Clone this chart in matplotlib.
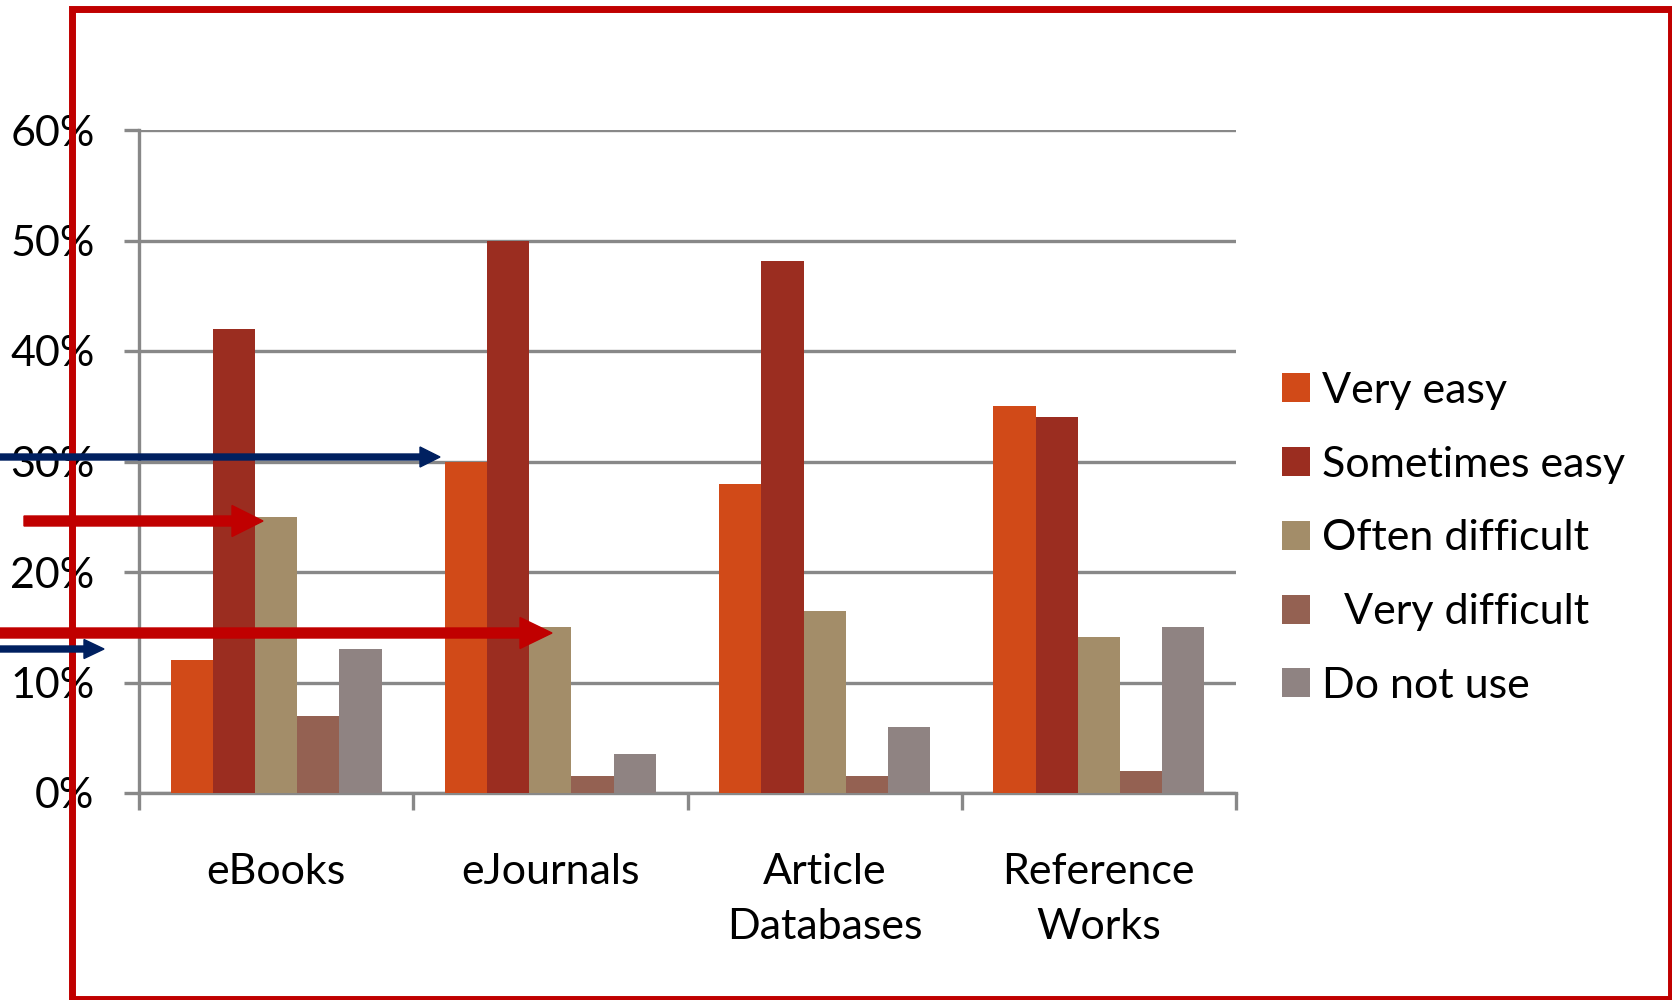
import numpy as np
import matplotlib
matplotlib.use('Agg')
import matplotlib.pyplot as plt
from matplotlib.patches import FancyArrow, Rectangle
from matplotlib.transforms import IdentityTransform

plt.rcParams['font.family'] = ['Lato', 'DejaVu Sans']

# data (fractions)
categories = ['eBooks', 'eJournals', 'Article\nDatabases', 'Reference\nWorks']
series = ['Very easy', 'Sometimes easy', 'Often difficult', '  Very difficult', 'Do not use']
very_easy = [0.12, 0.30, 0.28, 0.35]
sometimes_easy = [0.42, 0.50, 0.481, 0.34]
often_difficult = [0.25, 0.15, 0.165, 0.141]
very_difficult = [0.07, 0.015, 0.015, 0.02]
do_not_use = [0.13, 0.035, 0.06, 0.15]
colors = ['#D14A18', '#9B2D20', '#A38D69', '#946152', '#8F8382']
yticks = [0, 0.1, 0.2, 0.3, 0.4, 0.5, 0.6]
ytick_labels = ['0%', '10%', '20%', '30%', '40%', '50%', '60%']

values = [very_easy, sometimes_easy, often_difficult, very_difficult, do_not_use]

W, H = 1672, 1000
fs = 31
fig = plt.figure(figsize=(W/100, H/100), dpi=100)
ax = fig.add_axes([139/W, 1-793/H, (1236-139)/W, (793-130)/H])

x = np.arange(len(categories))
bw = 0.769/5
for i, (vals, lab) in enumerate(zip(values, series)):
    ax.bar(x + (i-2)*bw, vals, width=bw, color=colors[i], label=lab, zorder=3)

grid_c = '#888888'
ax.set_ylim(0, 0.6)
ax.set_xlim(-0.5, 3.5)
ax.set_yticks(yticks)
ax.set_yticklabels(ytick_labels)
ax.yaxis.grid(True, color=grid_c, linewidth=2.4, zorder=0)
ax.set_axisbelow(True)
for s in ['top', 'right']:
    ax.spines[s].set_visible(False)
for s in ['left', 'bottom']:
    ax.spines[s].set_color(grid_c)
    ax.spines[s].set_linewidth(2.4)
ax.tick_params(axis='y', length=11, width=2.4, color=grid_c, pad=21, labelsize=fs)
# category boundaries as ticks
ax.set_xticks(np.arange(-0.5, 4, 1), minor=False)
ax.set_xticklabels([])
ax.set_xticks(x, minor=True)
ax.set_xticklabels(categories, minor=True, fontsize=fs, linespacing=1.55)
ax.tick_params(axis='x', which='major', length=12, width=2.4, color=grid_c)
ax.tick_params(axis='x', which='minor', length=0, pad=43)

fig.legend(loc='upper left', bbox_to_anchor=(1282/W, 1-372/H), bbox_transform=fig.transFigure,
           frameon=False, fontsize=fs, handlelength=0.66, handleheight=0.66,
           handletextpad=0.28, labelspacing=0.83, borderpad=0, borderaxespad=0)

# red frame and overlaid arrows (drawn in pixel coords)
tr = IdentityTransform()
fig.add_artist(Rectangle((72, 1), 1671-72, 990, fill=False, edgecolor='#C00000',
                         linewidth=5, transform=tr, zorder=10))
navy = '#002060'
red = '#C00000'
arrows = [(0, 543, 440, 6, 20, 20, navy),
          (24, 479, 239, 10, 31, 31, red),
          (0, 367, 552, 10, 31, 32, red),
          (0, 351, 104, 6, 19, 20, navy)]
for x0, y0, dx, w, hw, hl, c in arrows:
    fig.add_artist(FancyArrow(x0, y0, dx, 0, width=w, head_width=hw, head_length=hl,
                              length_includes_head=True, color=c, transform=tr, zorder=11))

fig.savefig('out.png', dpi=100)
